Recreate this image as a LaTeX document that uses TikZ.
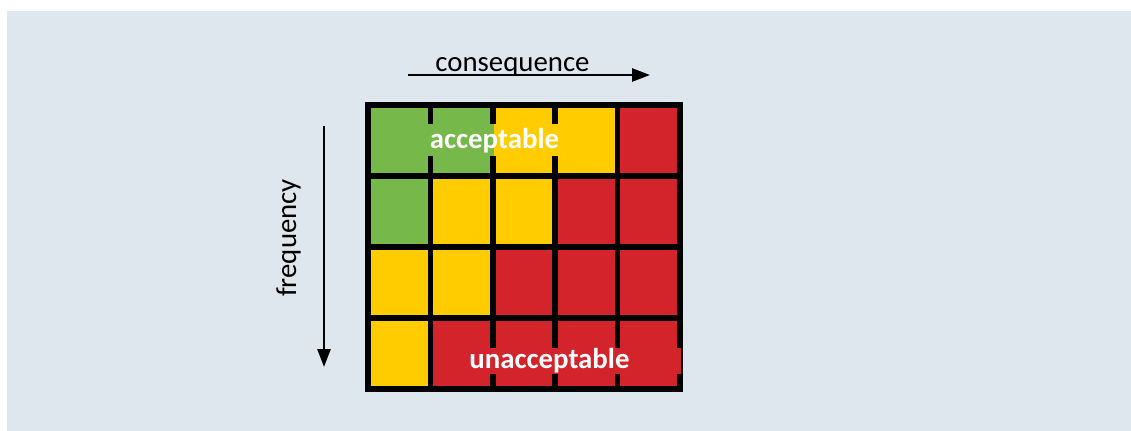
\documentclass[tikz,border=0pt]{standalone}
\usepackage{fontspec}
\setmainfont{Carlito}
\usetikzlibrary{arrows.meta}

\definecolor{bgblue}{RGB}{223,231,238}
\definecolor{riskgreen}{RGB}{118,184,74}
\definecolor{riskyellow}{RGB}{255,204,0}
\definecolor{riskred}{RGB}{211,35,43}

\tikzset{
  cell/.style={draw=black, line width=0.11cm, minimum width=1.248cm,
    minimum height=1.42cm, inner sep=0pt, outer sep=0pt},
  axislabel/.style={font=\fontsize{16.4}{20}\selectfont, inner sep=0pt},
  zonelabel/.style={font=\fontsize{16.4}{20}\selectfont\bfseries, text=white,
    inner sep=0pt},
  axisarrow/.style={line width=0.05cm, -{Triangle[length=0.36cm,width=0.26cm]}}
}

\begin{document}
\begin{tikzpicture}[x=0.02cm, y=-0.02cm]
    % Canvas
    \useasboundingbox (0,0) rectangle (1131,431);
    \fill[bgblue] (7,11) rectangle (1131,431);

    % Risk matrix (rows: frequency, columns: consequence)
    \foreach \row/\colors in {
        0/{riskgreen,riskgreen,riskyellow,riskyellow,riskred},
        1/{riskgreen,riskyellow,riskyellow,riskred,riskred},
        2/{riskyellow,riskyellow,riskred,riskred,riskred},
        3/{riskyellow,riskred,riskred,riskred,riskred}}
      \foreach \col [count=\c from 0] in \colors
        \node[cell, fill=\col] (cell-\row-\c) at (399.2+62.4*\c, 140.5+71*\row) {};

    % Axes
    \coordinate (cons-start) at (408,75);
    \coordinate (cons-end) at (650,75);
    \draw[axisarrow] (cons-start) -- (cons-end);
    \node[axislabel, anchor=base] (conslabel) at (512.5,71.5) {consequence};

    \coordinate (freq-start) at (324,126);
    \coordinate (freq-end) at (324,367);
    \draw[axisarrow] (freq-start) -- (freq-end);
    \node[axislabel, rotate=90, anchor=base] (freqlabel) at (296,238) {frequency};

    % Zone labels
    \node[zonelabel, minimum width=2.7cm, minimum height=0.64cm,
      path picture={
        \fill[riskyellow] (path picture bounding box.south west)
          rectangle (path picture bounding box.north east);
        \fill[riskgreen] (path picture bounding box.south west)
          rectangle ([xshift=1.34cm]path picture bounding box.north west);
      }] (acclabel) at (494.5,140.5) {acceptable};
    \node[zonelabel, fill=riskred, anchor=west, inner xsep=0.14cm,
      minimum height=0.52cm, text width=4.1cm, align=left]
      (unacclabel) at (462,361) {unacceptable};
  \end{tikzpicture}
\end{document}
